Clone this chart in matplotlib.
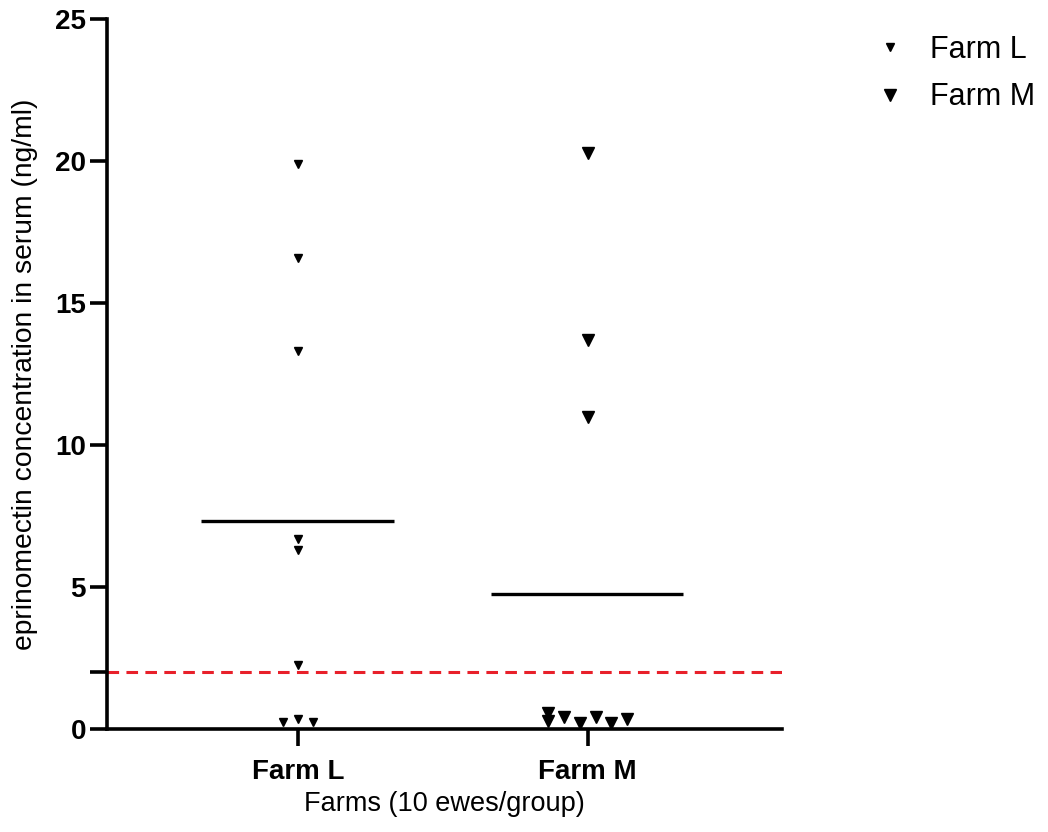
import numpy as np
import matplotlib
matplotlib.use("Agg")
import matplotlib.pyplot as plt
from matplotlib.lines import Line2D

plt.rcParams['font.family'] = ['Liberation Sans', 'DejaVu Sans']

# Data (ng/ml)
groups = ["Farm L", "Farm M"]
farm_l = [19.9, 16.6, 13.3, 6.7, 6.3, 2.25, 0.25, 0.35, 0.25]
farm_m = [20.3, 13.7, 11.0, 0.55, 0.28, 0.4, 0.22, 0.4, 0.22, 0.35]
loq = 2.0
yticks = [0, 2, 5, 10, 15, 20, 25]
ytick_labels = ["0", "", "5", "10", "15", "20", "25"]

# horizontal scatter offsets (swarm-like spreading of overlapping points)
offs_l = [0, 0, 0, 0, 0, 0, -0.052, 0, 0.052]
offs_m = [0, 0, 0, -0.138, -0.138, -0.083, -0.028, 0.028, 0.08, 0.135]

fig = plt.figure(figsize=(10.48, 8.32), dpi=100)
ax = fig.add_axes([0.102, 0.124, 0.644, 0.853])

series = [(farm_l, offs_l, 5.2), (farm_m, offs_m, 8.5)]
for i, (vals, offs, ms) in enumerate(series):
    x = np.array(offs) + i
    ax.plot(x, vals, linestyle="none", marker="v", markersize=ms,
            color="black", clip_on=False, zorder=4)
    m = np.mean(vals)
    ax.plot([i - 0.335, i + 0.33], [m, m], color="black", lw=2.4,
            solid_capstyle="butt", zorder=3)

ax.axhline(loq, color="#e8202a", lw=2.2, dashes=(3.8, 2.4), zorder=2)

ax.set_xlim(-0.66, 1.67)
ax.set_ylim(0, 25)
ax.set_xticks([0, 1])
ax.set_xticklabels(groups, fontsize=20, fontweight="bold")
ax.set_yticks(yticks)
ax.set_yticklabels(ytick_labels, fontsize=20, fontweight="bold")

for side in ["top", "right"]:
    ax.spines[side].set_visible(False)
for side in ["left", "bottom"]:
    ax.spines[side].set_linewidth(2.6)
ax.tick_params(axis="y", width=2.6, length=12, pad=3)
ax.tick_params(axis="x", width=2.6, length=12, pad=10)

ax.set_ylabel("eprinomectin concentration in serum (ng/ml)", fontsize=20.3, labelpad=12)
ax.set_xlabel("Farms (10 ewes/group)", fontsize=19.5, labelpad=4)

handles = [Line2D([], [], linestyle="none", marker="v", markersize=5.2, color="black"),
           Line2D([], [], linestyle="none", marker="v", markersize=8.5, color="black")]
fig.legend(handles, groups, loc="upper left", bbox_to_anchor=(0.835, 0.958),
           frameon=False, fontsize=22, borderpad=0, borderaxespad=0,
           handlelength=1.0, handletextpad=0.8, labelspacing=0.57)

fig.savefig("out.png", dpi=100)
